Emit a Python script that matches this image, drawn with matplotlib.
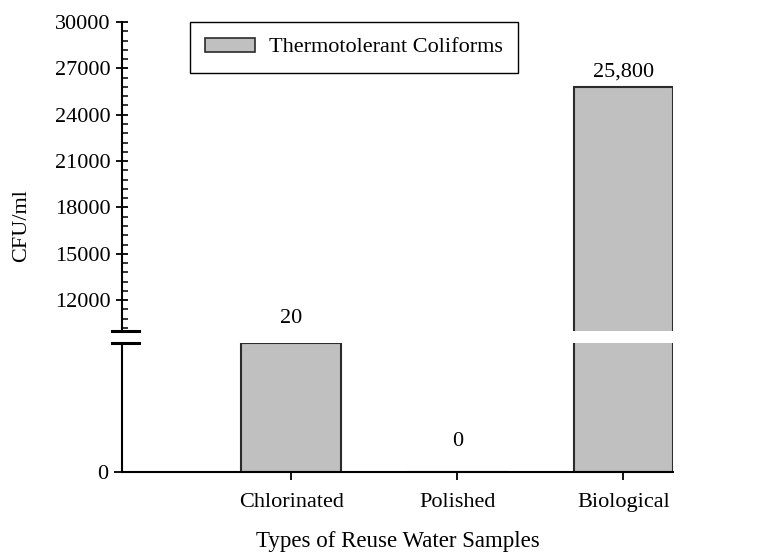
import matplotlib.pyplot as plt
from matplotlib.ticker import MultipleLocator
from matplotlib.patches import Patch

# Data
categories = ['Chlorinated', 'Polished', 'Biological']
cfu_values = [20, 0, 25800]
value_labels = ['20', '0', '25,800']

plt.rcParams['font.family'] = ['Liberation Serif', 'DejaVu Serif']
plt.rcParams['font.size'] = 16

bar_color = '#c0c0c0'
edge_color = '#2b2b2b'
x = [1, 2, 3]
width = 0.6

fig = plt.figure(figsize=(7.81, 5.53), dpi=100)
ax_top = fig.add_axes([0.156, 0.4014, 0.706, 0.5588])
ax_bot = fig.add_axes([0.156, 0.1465, 0.706, 0.2333])

for ax in (ax_top, ax_bot):
    ax.bar(x, cfu_values, width=width, color=bar_color, edgecolor=edge_color, linewidth=1.5)
    ax.set_xlim(-0.02, 3.3)
    ax.spines['top'].set_visible(False)
    ax.spines['right'].set_visible(False)
    ax.spines['left'].set_linewidth(1.5)

# upper part
ax_top.set_ylim(10000, 30000)
ax_top.spines['bottom'].set_visible(False)
ax_top.set_xticks([])
ax_top.yaxis.set_minor_locator(MultipleLocator(600))
ax_top.set_yticks(range(12000, 30001, 3000))
ax_top.tick_params(axis='y', which='major', direction='inout', length=9, width=1.3)
ax_top.tick_params(axis='y', which='minor', direction='in', length=4, width=1.1)

# lower part
ax_bot.set_ylim(0, 20)
ax_bot.set_yticks([0])
ax_bot.spines['bottom'].set_linewidth(1.5)
ax_bot.set_xticks(x)
ax_bot.set_xticklabels(categories)
ax_bot.tick_params(axis='both', direction='out', length=6, width=1.3)
ax_bot.tick_params(axis='x', pad=9)
ax_bot.set_xlabel('Types of Reuse Water Samples', fontsize=16.5, labelpad=14)

fig.text(0.028, 0.592, 'CFU/ml', rotation=90, ha='center', va='center', fontsize=16)

# break marks on the y axis
for ax, yy in ((ax_top, 0), (ax_bot, 1)):
    ax.plot([-0.017, 0.032], [yy, yy], transform=ax.transAxes, color='black',
            linewidth=2.2, clip_on=False)

# value labels
offsets = [11, 15, 4]
for xi, val, lab, off in zip(x, cfu_values, value_labels, offsets):
    ax = ax_top if val > 10000 else ax_bot
    ax.annotate(lab, (xi, val), xytext=(0, off), textcoords='offset points',
                ha='center', va='bottom', fontsize=16, annotation_clip=False)

ax_top.legend(handles=[Patch(facecolor=bar_color, edgecolor=edge_color, linewidth=1.2)],
              labels=['Thermotolerant Coliforms'], loc='upper left',
              bbox_to_anchor=(0.123, 1.0), borderaxespad=0, fancybox=False,
              edgecolor='black', framealpha=1, handlelength=2.25, handleheight=0.6,
              borderpad=0.7, handletextpad=0.6)

fig.savefig('out.png', dpi=100)
